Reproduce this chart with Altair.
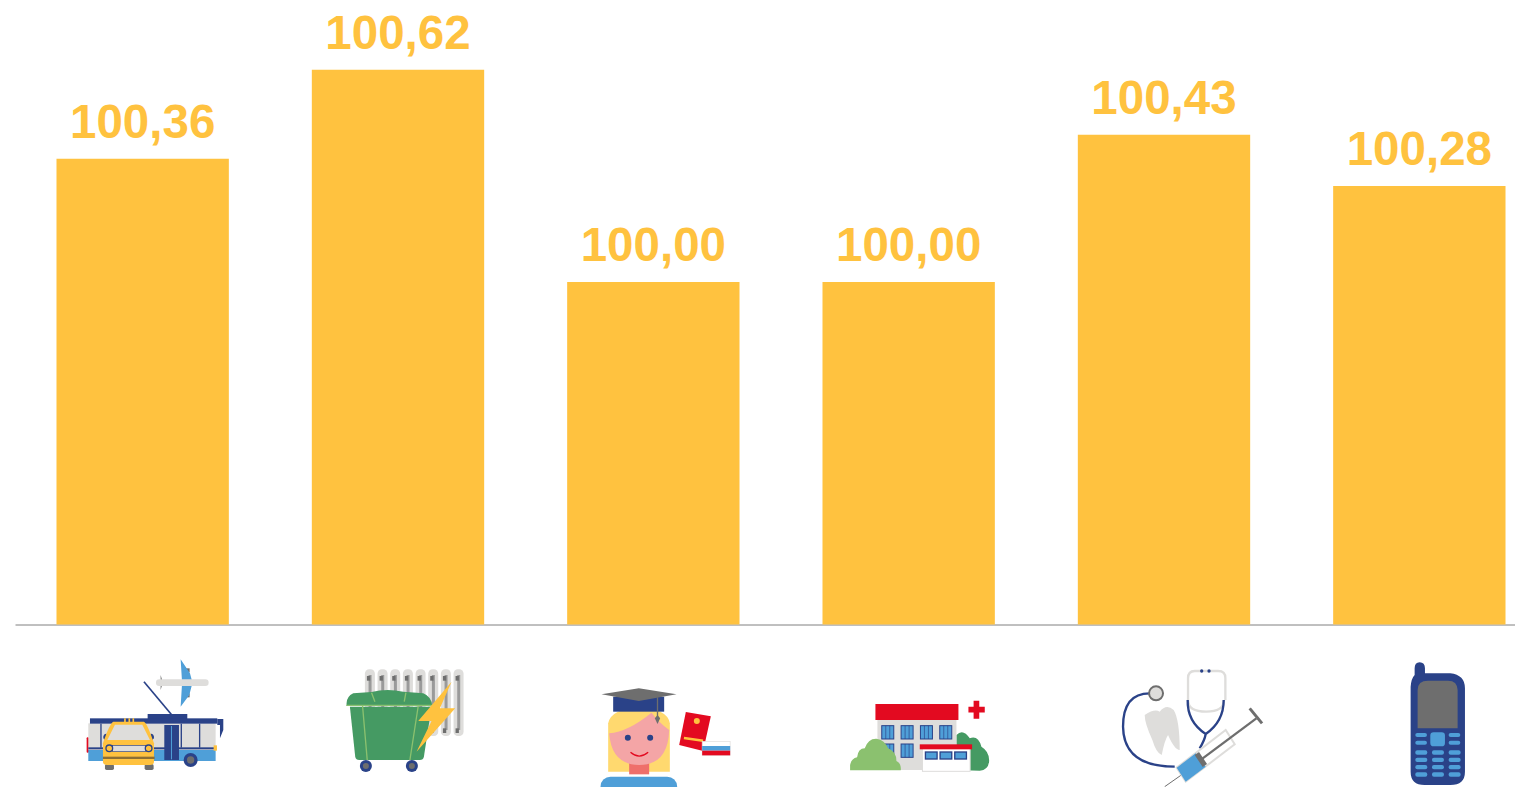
import base64
import altair as alt
import pandas as pd

categories = ["transport", "housing", "education", "health_resorts", "medicine", "communication"]
values = [100.36, 100.62, 100.00, 100.00, 100.43, 100.28]
labels = ["100,36", "100,62", "100,00", "100,00", "100,43", "100,28"]
axis_floor = 99.0
axis_ceiling = 100.80

Y, N, B, G, D, GR, LG, R, W = "#FFC23F", "#2A4288", "#4F9FD8", "#DEDDDB", "#6E6E6E", "#459A63", "#8BC16F", "#E30A20", "#FFFFFF"

bus = f'''
<g fill="{D}"><path d="M272 105l6 20h-6zM272 150l6-20h-6z"/><rect x="345" y="85" width="14" height="12"/><rect x="345" y="160" width="14" height="12"/></g>
<path d="M332 58L360 100L366 122H336ZM336 134H366L358 165L332 200Z" fill="{B}"/>
<rect x="258" y="118" width="158" height="20" rx="10" fill="{G}"/>
<line x1="222" y1="125" x2="305" y2="224" stroke="{N}" stroke-width="5"/>
<rect x="50" y="292" width="7" height="46" rx="3" fill="{R}"/>
<rect x="55" y="250" width="382" height="80" fill="{G}"/>
<rect x="55" y="330" width="382" height="33" fill="{B}"/>
<rect x="55" y="322" width="382" height="6" fill="{N}"/>
<rect x="233" y="222" width="119" height="15" fill="{N}"/>
<rect x="60" y="235" width="382" height="16" fill="{N}"/>
<g fill="{N}"><rect x="91" y="251" width="4" height="72"/><rect x="332" y="251" width="4" height="72"/><rect x="387" y="251" width="4" height="72"/><rect x="283" y="255" width="44" height="105"/></g>
<rect x="303" y="258" width="3" height="100" fill="{B}"/>
<path d="M442 237H460V270L450 295V255H442Z" fill="{N}"/>
<rect x="431" y="316" width="10" height="16" fill="{Y}"/>
<circle cx="362" cy="360" r="21" fill="{N}"/><circle cx="362" cy="360" r="11" fill="{D}"/>
<path d="M165 248v-13M178 248v-13M190 248v-13" stroke="{Y}" stroke-width="5"/>
<rect x="105" y="372" width="27" height="18" rx="5" fill="{D}"/><rect x="224" y="372" width="27" height="18" rx="5" fill="{D}"/>
<path d="M100 295a9 12 0 0 1 10-14v24ZM252 295a9 12 0 0 0-10-14v24Z" fill="{N}"/>
<path d="M130 245H222Q232 250 252 310V365Q252 375 240 375H112Q99 375 99 365V310Q118 252 130 245Z" fill="{Y}"/>
<path d="M135 254H217L240 300H112Z" fill="{G}"/>
<rect x="99" y="350" width="155" height="7" fill="#8C6F35"/>
<rect x="128" y="316" width="100" height="19" fill="{G}" stroke="{N}" stroke-width="2"/>
<g fill="{Y}" stroke="{N}" stroke-width="4"><circle cx="118" cy="325" r="10"/><circle cx="236" cy="325" r="10"/></g>
'''

radiator_cols = "".join(
    f'<rect x="{x}" y="88" width="30" height="200" rx="13" fill="{G}"/><rect x="{x+11}" y="105" width="9" height="165" fill="#9A9A9A"/><rect x="{x+6}" y="108" width="10" height="14" fill="{D}"/><rect x="{x+6}" y="265" width="10" height="14" fill="{D}"/>'
    for x in range(885, 1160, 38)
)
bin_icon = f'''
{radiator_cols}
<path d="M830 190Q830 170 850 160L905 156Q950 145 1000 155L1060 160Q1085 170 1087 198H830Z" fill="{GR}"/>
<path d="M840 200H1085L1062 350Q1060 360 1050 360H868Q858 360 856 350Z" fill="{GR}"/>
<path d="M830 196H1087M878 198L892 360M1045 198L1020 360M905 158L915 185M1008 158L1003 185" stroke="{LG}" stroke-width="4" fill="none"/>
<circle cx="888" cy="378" r="18" fill="{N}"/><circle cx="888" cy="378" r="9" fill="{D}"/>
<circle cx="1026" cy="378" r="18" fill="{N}"/><circle cx="1026" cy="378" r="9" fill="{D}"/>
<path d="M1145 125L1045 243H1085L1040 335L1156 205H1110Z" fill="{Y}"/>
'''

student = f'''
<rect x="62" y="410" width="230" height="60" rx="30" fill="{B}"/>
<path d="M85 395V250Q95 205 177 205Q262 205 270 250V395Z" fill="#FFD96F"/>
<rect x="148" y="365" width="60" height="38" fill="#EF6F6B"/>
<path d="M88 280Q145 275 215 218Q240 250 268 270Q265 375 178 375Q95 375 88 280Z" fill="#F4A5A6"/>
<circle cx="144" cy="293" r="9" fill="{N}"/><circle cx="211" cy="293" r="9" fill="{N}"/>
<path d="M152 337Q178 360 205 337" stroke="{R}" stroke-width="4" fill="none"/>
<rect x="100" y="170" width="153" height="45" fill="{N}"/>
<path d="M65 163L177 145L290 163L177 183Z" fill="{D}"/>
<path d="M233 172V232" stroke="{D}" stroke-width="4"/><path d="M225 235L233 225L241 235L233 252Z" fill="{D}"/>
<path d="M318 216L393 229L370 333L298 315Z" fill="{R}"/>
<circle cx="351" cy="243" r="9" fill="{Y}"/>
<rect x="312" y="294" width="58" height="8" fill="{Y}" transform="rotate(8 340 298)"/>
<rect x="367" y="304" width="84" height="42" fill="{W}" stroke="{G}" stroke-width="2"/><rect x="367" y="318" width="84" height="14" fill="{B}"/><rect x="367" y="332" width="84" height="14" fill="{R}"/>
'''

windows = "".join(
    f'<rect x="{x}" y="{y}" width="36" height="40" fill="{B}" stroke="{N}" stroke-width="3"/><path d="M{x+12} {y}v40M{x+24} {y}v40" stroke="{N}" stroke-width="2"/>'
    for x, y in [(906, 257), (964, 257), (1022, 257), (1080, 257), (964, 312), (906, 312)]
)
small_windows = "".join(
    f'<rect x="{x}" y="336" width="35" height="21" fill="{B}" stroke="{N}" stroke-width="4"/>' for x in (1037, 1081, 1125)
)
hospital = f'''
<path d="M1130 390V285Q1150 265 1170 295Q1195 285 1205 320Q1230 335 1228 365Q1225 390 1200 392Z" fill="{GR}"/>
<rect x="893" y="235" width="237" height="155" fill="{G}"/>
<rect x="887" y="192" width="249" height="48" fill="{R}"/>
{windows}
<path d="M811 391V375Q815 355 832 352Q835 325 855 325Q865 295 890 296Q915 300 925 325Q950 335 950 363Q965 370 963 391Z" fill="{LG}"/>
<rect x="1028" y="322" width="143" height="72" fill="{W}" stroke="{G}" stroke-width="3"/>
<rect x="1020" y="313" width="157" height="15" fill="{R}"/>
{small_windows}
<path d="M1190 182V236M1166 209H1215" stroke="{R}" stroke-width="17"/>
'''

medical = f'''
<path d="M135 225Q165 205 180 215Q200 190 222 210Q240 240 240 330Q225 330 205 285Q195 300 186 345Q170 340 158 300Q135 250 135 225Z" fill="{G}"/>
<path d="M150 160Q70 160 70 260Q72 380 225 380" stroke="{N}" stroke-width="7" fill="none"/>
<circle cx="169" cy="160" r="21" fill="{G}" stroke="{D}" stroke-width="6"/>
<path d="M265 180V115Q265 93 285 93H355Q378 93 377 115V180" stroke="{G}" stroke-width="7" fill="none"/>
<path d="M265 180Q265 215 320 215Q372 215 373 180" stroke="{G}" stroke-width="7" fill="none"/>
<path d="M264 180Q262 245 318 282Q372 245 372 180M318 282Q315 300 300 325" stroke="{N}" stroke-width="7" fill="none"/>
<circle cx="306" cy="93" r="5" fill="{N}"/><circle cx="328" cy="93" r="5" fill="{N}"/>
<line x1="195" y1="440" x2="245" y2="405" stroke="{D}" stroke-width="3"/>
<path d="M231 383L378 270L405 313L258 425Z" fill="{W}" stroke="{G}" stroke-width="6"/>
<path d="M231 383L288 340L318 380L258 425Z" fill="{B}"/>
<path d="M285 345L298 336L322 372L309 381Z" fill="{D}"/>
<path d="M305 358L470 235" stroke="{D}" stroke-width="7"/>
<path d="M450 205L487 250" stroke="{D}" stroke-width="9"/>
'''

phone_keys = "".join(
    f'<rect x="{x}" y="{y}" width="36" height="13" rx="6" fill="{B}"/>'
    for y in (331, 353, 375, 397) for x in (947, 997, 1047)
)
phone = f'''
<path d="M945 85Q945 67 960 67Q976 67 976 85V100H1052Q1096 105 1096 145V395Q1096 435 1052 435H975Q933 435 933 395V140Q935 115 945 105Z" fill="{N}"/>
<path d="M954 265V150Q954 122 985 122H1045Q1073 122 1074 150V265Z" fill="{D}"/>
<rect x="992" y="277" width="44" height="42" rx="10" fill="{B}"/>
<g fill="{B}"><rect x="947" y="279" width="35" height="12" rx="6"/><rect x="947" y="302" width="35" height="12" rx="6"/><rect x="1047" y="279" width="35" height="12" rx="6"/><rect x="1047" y="302" width="35" height="12" rx="6"/></g>
{phone_keys}
'''

icon_parts = [(bus, 70), (bin_icon, 70), (student, 580), (hospital, 580), (medical, 1100), (phone, 1100)]


def icon_url(i):
    body, ox = icon_parts[i]
    left = 15 + 255.4 * (i + 0.5) - 100
    svg = (
        f'<svg xmlns="http://www.w3.org/2000/svg" width="200" height="140" viewBox="{left} 647 200 140">'
        f'<g transform="translate({ox} 640) scale(0.33333)">{body}</g></svg>'
    )
    return "data:image/svg+xml;base64," + base64.b64encode(svg.encode()).decode()


df = pd.DataFrame({
    "category": categories,
    "value": values,
    "label": labels,
    "icon": [icon_url(i) for i in range(6)],
})

x = alt.X(
    "category:N",
    sort=categories,
    title=None,
    scale=alt.Scale(domain=categories, range=[0, 1532], paddingInner=0.325, paddingOuter=0.1625),
    axis=alt.Axis(labels=False, ticks=False, grid=False, domain=True, domainColor="#808080", domainWidth=1, title=None),
)
y = alt.Y("value:Q", axis=None, scale=alt.Scale(domain=[axis_floor, axis_ceiling], zero=False, nice=False))

bars = alt.Chart(df).mark_bar(color=Y).encode(x=x, y=y, y2=alt.datum(axis_floor))
text = alt.Chart(df).mark_text(
    color=Y, font="Liberation Sans", fontWeight="bold", fontSize=47.5, baseline="alphabetic", dy=-21
).encode(x=x, y=y, text="label:N")
icons = alt.Chart(df).mark_image(width=200, height=140, align="center", baseline="top").encode(
    x=x, y=alt.value(639), url="icon:N"
)

chart = (bars + text + icons).properties(
    width=1500,
    height=616.5,
    padding={"left": 7, "top": 0, "right": 0, "bottom": 162},
    autosize=alt.AutoSizeParams(type="none"),
    background="white",
).configure_view(stroke=None)

chart.save("out.html", embed_options={"renderer": "svg", "actions": False})
